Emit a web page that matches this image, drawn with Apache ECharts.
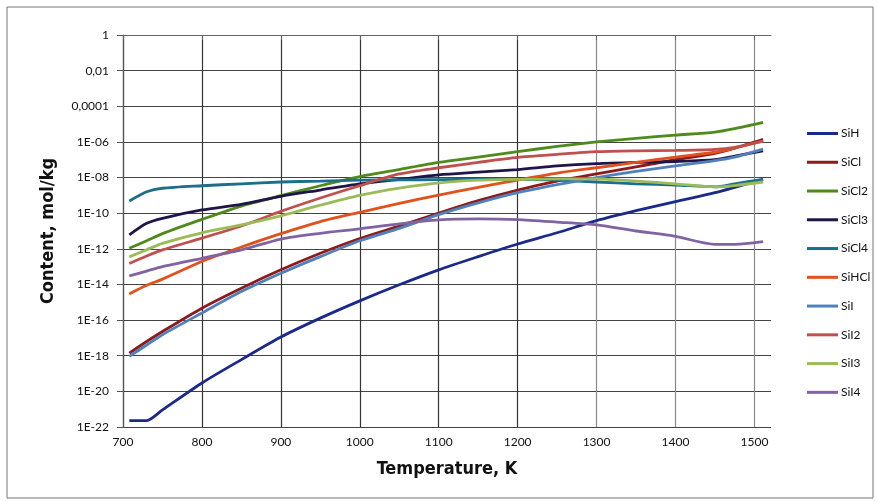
<!DOCTYPE html>
<html>
<head>
<meta charset="utf-8">
<title>Content vs temperature</title>
<script src="https://cdn.jsdelivr.net/npm/echarts@6.0.0/dist/echarts.min.js"></script>
<style>
  html, body { margin: 0; padding: 0; background: #fff; }
  #chart { width: 877px; height: 502px; }
</style>
</head>
<body>
<div id="chart"></div>
<script>
// temperature points, K
const temps = [708, 730, 750, 800, 850, 900, 950, 1000, 1050, 1100, 1150, 1200, 1250, 1300, 1350, 1400, 1450, 1475, 1511];

// log10 of content, mol/kg
const siH   = [-21.64, -21.64, -21.04, -19.53, -18.22, -16.95, -15.89, -14.92, -14.02, -13.18, -12.44, -11.73, -11.1, -10.42, -9.86, -9.35, -8.85, -8.55, -8.1];
const siCl  = [-17.85, -17.2, -16.64, -15.33, -14.21, -13.18, -12.25, -11.42, -10.72, -10.0, -9.3, -8.7, -8.2, -7.8, -7.4, -7.0, -6.65, -6.35, -5.85];
const siCl2 = [-11.97, -11.55, -11.15, -10.35, -9.6, -9.02, -8.46, -7.95, -7.55, -7.15, -6.85, -6.55, -6.25, -6.0, -5.8, -5.62, -5.45, -5.25, -4.9];
const siCl3 = [-11.22, -10.57, -10.29, -9.82, -9.5, -9.05, -8.7, -8.35, -8.1, -7.85, -7.7, -7.55, -7.35, -7.22, -7.15, -7.1, -7.0, -6.8, -6.5];
const siCl4 = [-9.32, -8.8, -8.6, -8.46, -8.35, -8.25, -8.2, -8.15, -8.13, -8.12, -8.1, -8.1, -8.15, -8.25, -8.35, -8.42, -8.52, -8.35, -8.1];
const siHCl = [-14.53, -14.05, -13.7, -12.71, -11.9, -11.15, -10.47, -9.95, -9.45, -8.98, -8.55, -8.14, -7.75, -7.45, -7.15, -6.85, -6.58, -6.35, -5.95];
const siI   = [-18.04, -17.4, -16.82, -15.6, -14.4, -13.37, -12.44, -11.55, -10.85, -10.08, -9.42, -8.85, -8.4, -8.0, -7.65, -7.35, -7.05, -6.85, -6.4];
const siI2  = [-12.82, -12.4, -12.06, -11.4, -10.72, -9.9, -9.15, -8.45, -7.8, -7.45, -7.15, -6.87, -6.7, -6.55, -6.5, -6.48, -6.42, -6.3, -5.95];
const siI3  = [-12.45, -12.05, -11.69, -11.1, -10.66, -10.15, -9.55, -9.0, -8.6, -8.3, -8.15, -8.1, -8.07, -8.07, -8.2, -8.35, -8.52, -8.45, -8.25];
const siI4  = [-13.52, -13.25, -13.0, -12.53, -12.06, -11.45, -11.13, -10.88, -10.6, -10.38, -10.32, -10.36, -10.5, -10.66, -11.0, -11.3, -11.75, -11.75, -11.6];

const seriesNames = ['SiH', 'SiCl', 'SiCl2', 'SiCl3', 'SiCl4', 'SiHCl', 'SiI', 'SiI2', 'SiI3', 'SiI4'];
const seriesData = [siH, siCl, siCl2, siCl3, siCl4, siHCl, siI, siI2, siI3, siI4];
const seriesColors = ['#1b2a8a', '#8e1b1b', '#4e8a1c', '#201548', '#1a6f8a', '#e0511c', '#4f81bd', '#c0504d', '#9bbb59', '#8064a2'];

const xTicks = [700, 800, 900, 1000, 1100, 1200, 1300, 1400, 1500];
// y tick labels from 10^0 down to 10^-22, every 2 decades
const yTickLabels = ['1', '0,01', '0,0001', '1E-06', '1E-08', '1E-10', '1E-12', '1E-14', '1E-16', '1E-18', '1E-20', '1E-22'];

const labelFont = "Lato, 'Open Sans', sans-serif";
const nameFont = "'Liberation Sans Narrow', 'DejaVu Sans Condensed', sans-serif";

const chart = echarts.init(document.getElementById('chart'));

const option = {
    backgroundColor: '#fff',
    animation: false,
    graphic: [{
        type: 'rect',
        shape: { x: 7, y: 7, width: 866, height: 491 },
        style: { fill: 'none', stroke: '#777', lineWidth: 1 },
        silent: true
    }],
    grid: {
        left: 123,
        right: 106,
        top: 35,
        bottom: 75
    },
    legend: {
        orient: 'vertical',
        left: 802,
        top: 121.5,
        icon: 'rect',
        itemWidth: 31,
        itemHeight: 3,
        itemGap: 14.76,
        textStyle: {
            fontFamily: labelFont,
            fontSize: 12,
            lineHeight: 14,
            color: '#111',
            padding: [0, 0, 0, -2]
        },
        data: seriesNames
    },
    xAxis: {
        type: 'value',
        min: 700,
        max: 1521,
        interval: 100,
        name: 'Temperature, K',
        nameLocation: 'middle',
        nameGap: 33,
        nameTextStyle: {
            fontFamily: nameFont,
            fontWeight: 'bold',
            fontSize: 18,
            color: '#111'
        },
        axisLine: { lineStyle: { color: '#666', width: 1.2 } },
        axisTick: { show: true, length: 5, customValues: xTicks, lineStyle: { color: '#666' } },
        axisLabel: {
            customValues: xTicks,
            formatter: v => (v > 1500 ? '' : String(v)),
            margin: 9,
            fontFamily: labelFont,
            fontSize: 12,
            color: '#111'
        },
        splitLine: {
            show: true,
            lineStyle: {
                color: ['#333', '#333', '#333', '#333', '#333', '#333', '#8a8a8a', '#8a8a8a', '#8a8a8a', '#8a8a8a'],
                width: 1.2
            }
        }
    },
    yAxis: {
        type: 'value',
        min: -22,
        max: 0,
        interval: 2,
        name: 'Content, mol/kg',
        nameLocation: 'middle',
        nameGap: 66,
        nameTextStyle: {
            fontFamily: nameFont,
            fontWeight: 'bold',
            fontSize: 18,
            color: '#111'
        },
        axisLine: { show: true, lineStyle: { color: '#555', width: 1.2 } },
        axisTick: { show: true, length: 6, lineStyle: { color: '#555' } },
        axisLabel: {
            formatter: v => yTickLabels[Math.round(-v / 2)],
            margin: 14,
            fontFamily: labelFont,
            fontSize: 12,
            color: '#111'
        },
        splitLine: { show: true, lineStyle: { color: '#444', width: 1.2 } }
    },
    series: seriesNames.map((name, i) => ({
        name: name,
        type: 'line',
        symbol: 'none',
        smooth: 0.25,
        lineStyle: { color: seriesColors[i], width: 2.8 },
        itemStyle: { color: seriesColors[i] },
        data: temps.map((t, j) => [t, seriesData[i][j]])
    }))
};

chart.setOption(option);
</script>
</body>
</html>
